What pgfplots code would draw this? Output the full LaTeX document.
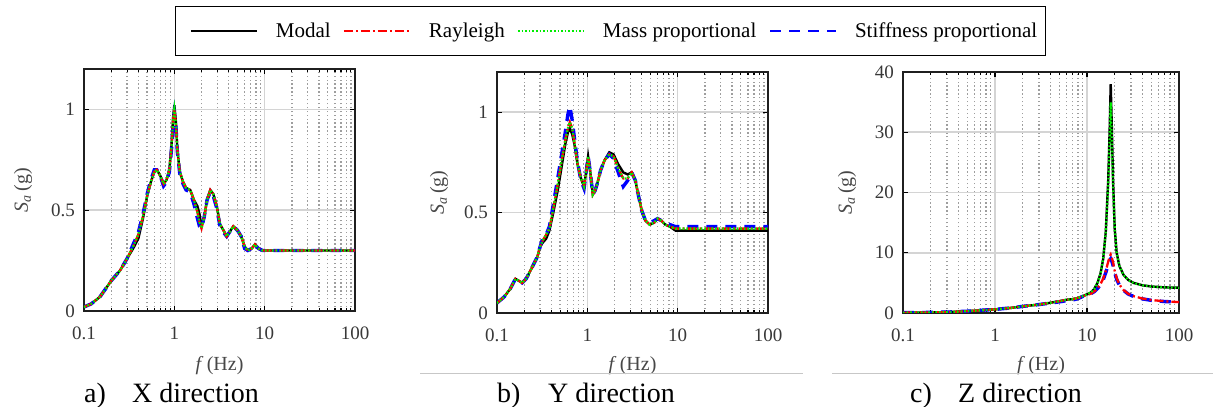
\documentclass[border=0pt]{standalone}
\usepackage{fontspec}
\setmainfont{Liberation Serif}
\usepackage{pgfplots}
\usepackage{pgfplotstable}
\pgfplotsset{compat=1.18}
\definecolor{mred}{rgb}{1,0,0}
\definecolor{mgreen}{rgb}{0,0.93,0}
\definecolor{mblue}{rgb}{0,0,1}

\tikzset{
  smodal/.style={draw=black, line width=2.4pt},
  sray/.style={draw=mred, line width=2.3pt, dash pattern=on 9pt off 3pt on 2pt off 3pt},
  smass/.style={draw=mgreen, line width=2.3pt, dash pattern=on 1.6pt off 2pt},
  sstiff/.style={draw=mblue, line width=3.4pt, dash pattern=on 11pt off 8pt},
}

\pgfplotsset{
  legend image code/.code={\path (0pt,0pt) -- (0pt,0pt); \draw[#1, line width=2pt] (9pt,0pt) -- (75pt,0pt);},
}

\pgfplotstableread{
f     modal ray   mass  stiff
0.1   0.02  0.02  0.02  0.02
0.12  0.035 0.035 0.035 0.035
0.15  0.07  0.07  0.07  0.07
0.18  0.12  0.12  0.12  0.12
0.2   0.15  0.15  0.15  0.15
0.25  0.20  0.20  0.20  0.20
0.3   0.26  0.26  0.26  0.26
0.35  0.31  0.32  0.32  0.33
0.4   0.36  0.38  0.38  0.39
0.45  0.46  0.47  0.47  0.48
0.5   0.57  0.57  0.57  0.58
0.55  0.64  0.64  0.64  0.65
0.6   0.69  0.69  0.69  0.70
0.64  0.70  0.70  0.70  0.70
0.7   0.67  0.67  0.67  0.67
0.76  0.63  0.63  0.63  0.62
0.82  0.65  0.65  0.65  0.64
0.88  0.70  0.70  0.70  0.69
0.93  0.82  0.81  0.81  0.80
0.97  0.96  0.95  0.95  0.93
1.0   1.02  1.00  1.00  0.98
1.04  0.94  0.93  0.93  0.92
1.08  0.80  0.80  0.80  0.79
1.15  0.69  0.69  0.69  0.68
1.25  0.64  0.64  0.64  0.63
1.35  0.61  0.61  0.61  0.60
1.5   0.60  0.60  0.60  0.59
1.65  0.55  0.55  0.55  0.53
1.8   0.52  0.49  0.49  0.46
1.9   0.48  0.44  0.44  0.42
2.0   0.42  0.41  0.41  0.41
2.15  0.47  0.47  0.47  0.47
2.3   0.55  0.55  0.55  0.55
2.5   0.60  0.60  0.60  0.59
2.7   0.58  0.58  0.58  0.57
2.95  0.52  0.52  0.52  0.51
3.2   0.43  0.43  0.43  0.42
3.5   0.40  0.40  0.40  0.39
3.8   0.37  0.37  0.37  0.37
4.2   0.40  0.40  0.40  0.40
4.5   0.42  0.42  0.42  0.42
5.0   0.40  0.40  0.40  0.40
5.5   0.37  0.37  0.37  0.37
6.0   0.32  0.32  0.32  0.31
6.5   0.30  0.30  0.30  0.30
7.2   0.31  0.31  0.31  0.31
7.8   0.33  0.33  0.33  0.33
8.5   0.31  0.31  0.31  0.31
9.5   0.30  0.30  0.30  0.30
12    0.30  0.30  0.30  0.30
20    0.30  0.30  0.30  0.30
100   0.30  0.30  0.30  0.30
}\dataA

\pgfplotstableread{
f     modal ray   mass  stiff
0.1   0.05  0.05  0.05  0.05
0.12  0.08  0.08  0.08  0.08
0.14  0.12  0.12  0.12  0.12
0.16  0.17  0.17  0.17  0.17
0.175 0.16  0.16  0.16  0.16
0.19  0.15  0.15  0.15  0.15
0.21  0.17  0.17  0.17  0.17
0.24  0.22  0.22  0.22  0.22
0.28  0.28  0.28  0.28  0.28
0.3   0.33  0.33  0.33  0.33
0.32  0.35  0.36  0.36  0.37
0.35  0.37  0.39  0.39  0.39
0.38  0.41  0.42  0.42  0.43
0.42  0.50  0.52  0.52  0.54
0.47  0.61  0.64  0.64  0.67
0.52  0.73  0.76  0.76  0.79
0.57  0.84  0.86  0.86  0.90
0.61  0.90  0.92  0.92  0.99
0.64  0.92  0.95  0.95  1.03
0.68  0.89  0.92  0.92  0.96
0.72  0.84  0.85  0.85  0.87
0.78  0.74  0.74  0.74  0.75
0.85  0.67  0.67  0.67  0.66
0.92  0.63  0.63  0.63  0.62
0.97  0.70  0.70  0.70  0.70
1.02  0.78  0.78  0.78  0.78
1.08  0.70  0.70  0.70  0.70
1.15  0.59  0.59  0.59  0.59
1.22  0.61  0.61  0.61  0.61
1.3   0.65  0.65  0.65  0.65
1.4   0.71  0.71  0.71  0.71
1.55  0.76  0.76  0.76  0.76
1.75  0.80  0.79  0.79  0.79
1.95  0.79  0.78  0.78  0.77
2.2   0.74  0.72  0.72  0.70
2.5   0.70  0.67  0.67  0.63
2.8   0.69  0.67  0.67  0.66
3.1   0.70  0.70  0.70  0.70
3.4   0.66  0.66  0.66  0.66
3.7   0.58  0.58  0.58  0.58
4.0   0.51  0.51  0.51  0.51
4.4   0.46  0.46  0.46  0.46
4.9   0.44  0.44  0.44  0.45
5.5   0.45  0.45  0.45  0.46
6.0   0.47  0.47  0.47  0.47
6.6   0.46  0.46  0.46  0.46
7.3   0.44  0.44  0.44  0.45
8.2   0.43  0.43  0.43  0.44
9.5   0.41  0.42  0.42  0.43
12    0.41  0.42  0.42  0.43
100   0.41  0.42  0.42  0.43
}\dataB

\pgfplotstableread{
f     modal ray   mass  stiff
0.1   0.05  0.05  0.05  0.05
0.2   0.10  0.10  0.10  0.10
0.3   0.15  0.15  0.15  0.15
0.5   0.30  0.30  0.30  0.30
0.7   0.45  0.45  0.45  0.45
1     0.60  0.60  0.60  0.60
1.5   0.85  0.85  0.85  0.85
2     1.10  1.10  1.10  1.10
3     1.40  1.40  1.40  1.40
4     1.70  1.70  1.70  1.65
5     1.95  1.95  1.95  1.85
6     2.20  2.20  2.20  2.05
7     2.30  2.30  2.30  2.15
8     2.50  2.50  2.50  2.40
9     2.80  2.80  2.80  2.75
10    3.10  3.00  3.10  3.00
11    3.40  3.20  3.40  3.20
12    4.00  3.60  4.00  3.55
13    5.00  4.10  5.00  4.05
14    6.50  4.80  6.50  4.70
15    9.00  5.70  9.00  5.50
16    13.5  7.00  13.5  6.70
17    22.0  8.50  21.0  8.00
17.6  30.0  9.30  28.5  8.70
18.1  38.0  9.70  35.0  9.00
18.6  31.0  9.20  29.0  8.60
19.2  22.0  8.40  21.0  7.90
20    14.0  7.00  14.0  6.70
21    10.0  5.80  10.0  5.60
22.5  7.80  4.70  7.80  4.60
25    6.30  3.80  6.30  3.75
28    5.50  3.20  5.50  3.15
32    5.00  2.80  5.00  2.75
40    4.60  2.40  4.60  2.35
50    4.40  2.15  4.40  2.10
70    4.25  1.95  4.25  1.90
100   4.20  1.80  4.20  1.80
}\dataC

\begin{document}
\begin{tikzpicture}
\useasboundingbox (0pt,0pt) rectangle (1213pt,407pt);

% panel a
\begin{axis}[
    scale only axis, anchor=south west, at={(84pt,96pt)}, width=271pt, height=242pt,
    xmode=log, xmin=0.1, xmax=100,
    xtick={0.1,1,10,100}, xticklabels={0.1,1,10,100},
    minor xtick={0.2,0.3,0.4,0.5,0.6,0.7,0.8,0.9,2,3,4,5,6,7,8,9,20,30,40,50,60,70,80,90},
    xmajorgrids=true, xminorgrids=true, ymajorgrids=true,
    major grid style={line width=1.6pt, black!17},
    minor grid style={line width=1.3pt, black!38, dash pattern=on 1.3pt off 2.6pt},
    axis line style={line width=2.2pt, black!88},
    tick align=inside, major tick length=5pt, minor tick length=3pt,
    tick style={black, line width=1.1pt},
    tick label style={font=\fontsize{19}{22}\selectfont, text=black!78},
    /pgf/number format/assume math mode=true,
    xticklabel style={anchor=center, inner sep=0pt, yshift=-22pt},
    yticklabel style={anchor=east, inner sep=0pt, xshift=-9pt},
    xlabel={\textit{f}\,(Hz)},
    ylabel={\textit{S}\textsubscript{\textit{a}}\,(g)},
    xlabel style={font=\fontsize{20}{24}\selectfont, text=black!72, at={(axis description cs:0.5,0)}, anchor=center, yshift=-55pt},
    ylabel style={font=\fontsize{20}{24}\selectfont, text=black!72, at={(axis description cs:0,0.5)}, anchor=center, yshift=61pt},
    ymin=0, ymax=1.2, ytick={0,0.5,1}, yticklabels={0,0.5,1},
    legend columns=4,
    legend style={at={(1.9428,1.157)}, anchor=center, draw=black, line width=1.3pt,
      fill=white, font=\fontsize{21}{25}\selectfont, inner xsep=5.5pt, inner ysep=14.5pt,
      nodes={inner xsep=3pt},
      /tikz/every odd column/.append style={column sep=15pt},
      /tikz/every even column/.append style={column sep=0pt}},
    legend cell align=left]
\addlegendimage{smodal}
\addlegendentry{Modal}
\addlegendimage{sray}
\addlegendentry{Rayleigh}
\addlegendimage{smass}
\addlegendentry{Mass proportional}
\addlegendimage{sstiff}
\addlegendentry{Stiffness proportional}
\addplot[smodal, forget plot] table[x=f, y=modal] {\dataA};
\addplot[sstiff, forget plot] table[x=f, y=stiff] {\dataA};
\addplot[sray, forget plot] table[x=f, y=ray] {\dataA};
\addplot[smass, forget plot] table[x=f, y=mass] {\dataA};
\end{axis}

% panel b
\begin{axis}[
    scale only axis, anchor=south west, at={(497pt,94pt)}, width=271pt, height=241pt,
    xmode=log, xmin=0.1, xmax=100,
    xtick={0.1,1,10,100}, xticklabels={0.1,1,10,100},
    minor xtick={0.2,0.3,0.4,0.5,0.6,0.7,0.8,0.9,2,3,4,5,6,7,8,9,20,30,40,50,60,70,80,90},
    xmajorgrids=true, xminorgrids=true, ymajorgrids=true,
    major grid style={line width=1.6pt, black!17},
    minor grid style={line width=1.3pt, black!38, dash pattern=on 1.3pt off 2.6pt},
    axis line style={line width=2.2pt, black!88},
    tick align=inside, major tick length=5pt, minor tick length=3pt,
    tick style={black, line width=1.1pt},
    tick label style={font=\fontsize{19}{22}\selectfont, text=black!78},
    /pgf/number format/assume math mode=true,
    xticklabel style={anchor=center, inner sep=0pt, yshift=-22pt},
    yticklabel style={anchor=east, inner sep=0pt, xshift=-9pt},
    xlabel={\textit{f}\,(Hz)},
    ylabel={\textit{S}\textsubscript{\textit{a}}\,(g)},
    xlabel style={font=\fontsize{20}{24}\selectfont, text=black!72, at={(axis description cs:0.5,0)}, anchor=center, yshift=-53pt},
    ylabel style={font=\fontsize{20}{24}\selectfont, text=black!72, at={(axis description cs:0,0.5)}, anchor=center, yshift=58pt},
    ymin=0, ymax=1.2, ytick={0,0.5,1}, yticklabels={0,0.5,1}]
\addplot[smodal] table[x=f, y=modal] {\dataB};
\addplot[sstiff] table[x=f, y=stiff] {\dataB};
\addplot[sray] table[x=f, y=ray] {\dataB};
\addplot[smass] table[x=f, y=mass] {\dataB};
\end{axis}

% panel c
\begin{axis}[
    scale only axis, anchor=south west, at={(903pt,94pt)}, width=276pt, height=241pt,
    xmode=log, xmin=0.1, xmax=100,
    xtick={0.1,1,10,100}, xticklabels={0.1,1,10,100},
    minor xtick={0.2,0.3,0.4,0.5,0.6,0.7,0.8,0.9,2,3,4,5,6,7,8,9,20,30,40,50,60,70,80,90},
    xmajorgrids=true, xminorgrids=true, ymajorgrids=true,
    major grid style={line width=1.6pt, black!17},
    minor grid style={line width=1.3pt, black!38, dash pattern=on 1.3pt off 2.6pt},
    axis line style={line width=2.2pt, black!88},
    tick align=inside, major tick length=5pt, minor tick length=3pt,
    tick style={black, line width=1.1pt},
    tick label style={font=\fontsize{19}{22}\selectfont, text=black!78},
    /pgf/number format/assume math mode=true,
    xticklabel style={anchor=center, inner sep=0pt, yshift=-22pt},
    yticklabel style={anchor=east, inner sep=0pt, xshift=-9pt},
    xlabel={\textit{f}\,(Hz)},
    ylabel={\textit{S}\textsubscript{\textit{a}}\,(g)},
    xlabel style={font=\fontsize{20}{24}\selectfont, text=black!72, at={(axis description cs:0.5,0)}, anchor=center, yshift=-53pt},
    ylabel style={font=\fontsize{20}{24}\selectfont, text=black!72, at={(axis description cs:0,0.5)}, anchor=center, yshift=56pt},
    ymin=0, ymax=40, ytick={0,10,20,30,40}, yticklabels={0,10,20,30,40}]
\addplot[smodal] table[x=f, y=modal] {\dataC};
\addplot[sstiff] table[x=f, y=stiff] {\dataC};
\addplot[sray] table[x=f, y=ray] {\dataC};
\addplot[smass] table[x=f, y=mass] {\dataC};
\end{axis}

\draw[black!22, line width=0.8pt] (420pt,34pt) -- (803pt,34pt);
\draw[black!22, line width=0.8pt] (832pt,34pt) -- (1213pt,34pt);

\begin{scope}[every node/.style={anchor=base west, inner sep=0pt, font=\fontsize{28}{32}\selectfont}]
\node at (84pt,5pt) {a)};
\node at (132pt,5pt) {X direction};
\node at (497pt,5pt) {b)};
\node at (548pt,5pt) {Y direction};
\node at (910pt,5pt) {c)};
\node at (958pt,5pt) {Z direction};
\end{scope}
\end{tikzpicture}
\end{document}
